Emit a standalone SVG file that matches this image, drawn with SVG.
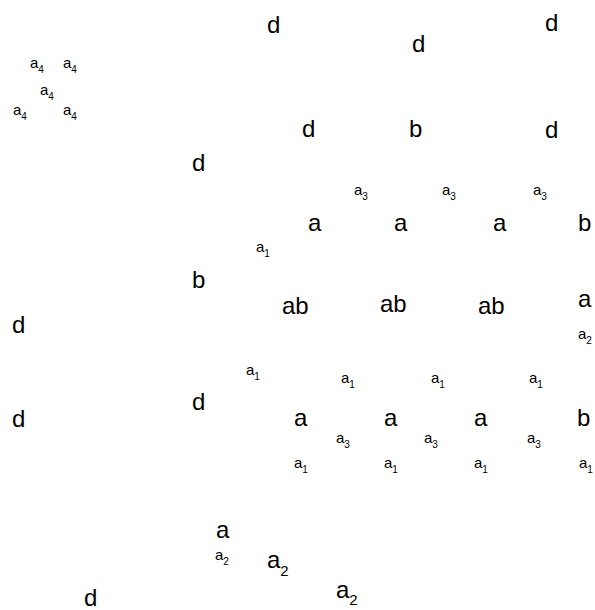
<svg xmlns="http://www.w3.org/2000/svg" width="595" height="610" viewBox="0 0 595 610">
<style>
text{font-family:"Liberation Sans",Arial,sans-serif;fill:#000}
.L{font-size:24px}
.S{font-size:15px}
.s{font-size:10px}
.m{font-size:15px}
</style>
<rect width="595" height="610" fill="#fff"/>
<g id="large">
<text class="L" x="267" y="33">d</text>
<text class="L" x="412" y="52">d</text>
<text class="L" x="545" y="31">d</text>
<text class="L" x="302" y="137">d</text>
<text class="L" x="409" y="137">b</text>
<text class="L" x="545" y="138">d</text>
<text class="L" x="192" y="171">d</text>
<text class="L" x="308" y="231">a</text>
<text class="L" x="394" y="231">a</text>
<text class="L" x="493" y="231">a</text>
<text class="L" x="578" y="231">b</text>
<text class="L" x="192" y="288">b</text>
<text class="L" x="282" y="314">ab</text>
<text class="L" x="380" y="312">ab</text>
<text class="L" x="478" y="314">ab</text>
<text class="L" x="578" y="307">a</text>
<text class="L" x="12" y="333">d</text>
<text class="L" x="192" y="410">d</text>
<text class="L" x="12" y="427">d</text>
<text class="L" x="294" y="426">a</text>
<text class="L" x="384" y="426">a</text>
<text class="L" x="474" y="426">a</text>
<text class="L" x="577" y="426">b</text>
<text class="L" x="216" y="538">a</text>
<text class="L" x="84" y="606">d</text>
<text class="L" x="267" y="568">a<tspan class="m" dy="8">2</tspan></text>
<text class="L" x="336" y="598">a<tspan class="m" dy="7">2</tspan></text>
</g>
<g id="small">
<text class="S" x="30" y="68">a<tspan class="s" dy="5">4</tspan></text>
<text class="S" x="63" y="68">a<tspan class="s" dy="5">4</tspan></text>
<text class="S" x="40" y="95">a<tspan class="s" dy="5">4</tspan></text>
<text class="S" x="13" y="115">a<tspan class="s" dy="5">4</tspan></text>
<text class="S" x="63" y="115">a<tspan class="s" dy="5">4</tspan></text>
<text class="S" x="354" y="195">a<tspan class="s" dy="5">3</tspan></text>
<text class="S" x="442" y="195">a<tspan class="s" dy="5">3</tspan></text>
<text class="S" x="533" y="195">a<tspan class="s" dy="5">3</tspan></text>
<text class="S" x="256" y="252">a<tspan class="s" dy="5">1</tspan></text>
<text class="S" x="578" y="339">a<tspan class="s" dy="5">2</tspan></text>
<text class="S" x="246" y="375">a<tspan class="s" dy="5">1</tspan></text>
<text class="S" x="341" y="383">a<tspan class="s" dy="5">1</tspan></text>
<text class="S" x="431" y="383">a<tspan class="s" dy="5">1</tspan></text>
<text class="S" x="529" y="383">a<tspan class="s" dy="5">1</tspan></text>
<text class="S" x="336" y="443">a<tspan class="s" dy="5">3</tspan></text>
<text class="S" x="424" y="443">a<tspan class="s" dy="5">3</tspan></text>
<text class="S" x="527" y="443">a<tspan class="s" dy="5">3</tspan></text>
<text class="S" x="294" y="468">a<tspan class="s" dy="5">1</tspan></text>
<text class="S" x="384" y="468">a<tspan class="s" dy="5">1</tspan></text>
<text class="S" x="474" y="468">a<tspan class="s" dy="5">1</tspan></text>
<text class="S" x="579" y="468">a<tspan class="s" dy="5">1</tspan></text>
<text class="S" x="215" y="560">a<tspan class="s" dy="5">2</tspan></text>
</g>
</svg>
